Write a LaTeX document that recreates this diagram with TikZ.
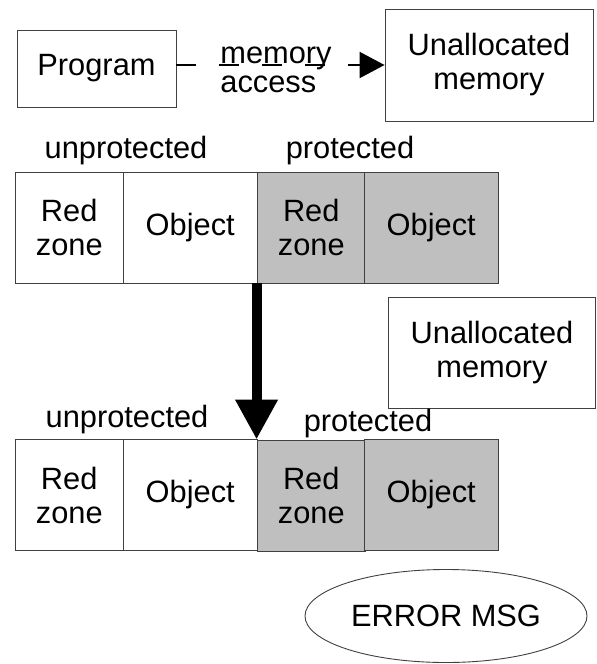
\documentclass[tikz,border=0pt]{standalone}
\usepackage{fontspec}
\setmainfont{Liberation Sans}
\usetikzlibrary{arrows.meta,shapes.geometric}

\tikzset{
  txt/.style={font=\fontsize{30.8}{34}\selectfont},
  box/.style={txt, draw=black!75, line width=0.9pt, align=center,
    inner sep=0pt, minimum height=111pt},
  rz/.style={box, minimum width=108.5pt},
  obj/.style={box, minimum width=133.5pt},
  guarded/.style={fill=black!25},
  lbl/.style={txt, anchor=base, inner sep=0pt},
}

\begin{document}
\begin{tikzpicture}[x=1pt, y=-1pt]
\useasboundingbox (0,0) rectangle (597,664);

% program accessing unallocated memory
\node[box, minimum width=159pt, minimum height=77pt] (prog) at (96.5,68.5) {Program};
\node[box, minimum width=208pt, minimum height=112pt] (unalA) at (489,65) {Unallocated\\memory};
\draw[line width=2pt, dash pattern=on 19.5pt off 23.5pt,
      -{Triangle[width=26pt,length=25pt]}]
  (prog.east |- unalA.west) -- node[txt, align=left, xshift=-4.5pt, yshift=-4.5pt,
    font=\fontsize{30.8}{29}\selectfont] {memory\\access} (unalA.west);

% memory layout before the access
\node[lbl] (unprotA) at (126,158) {unprotected};
\node[lbl] (protA) at (350,158) {protected};
\node[rz] (rzA1) at (69.25,227.5) {Red\\zone};
\node[obj] (obA1) at (190.25,228) {Object};
\node[rz, guarded] (rzA2) at (311.25,227.5) {Red\\zone};
\node[obj, guarded] (obA2) at (431.25,227.5) {Object};

\node[box, minimum width=207pt] (unalB) at (492,352.5) {Unallocated\\memory};

% memory layout after the access
\node[lbl] (unprotB) at (127,427) {unprotected};
\node[lbl] (protB) at (368,431) {protected};
\node[rz] (rzB1) at (69.25,495) {Red\\zone};
\node[obj] (obB1) at (190.25,494.5) {Object};
\node[rz, guarded] (rzB2) at (311.25,495.5) {Red\\zone};
\node[obj, guarded] (obB2) at (431.25,495) {Object};

\draw[line width=10pt, -{Triangle[width=40pt,length=40pt]}]
  (rzA2.south west) -- (rzB2.north west);

\node[txt, draw=black!75, line width=0.9pt, ellipse, inner sep=0pt,
      minimum width=282pt, minimum height=93pt] (err) at (446,616) {ERROR MSG};
\end{tikzpicture}
\end{document}
